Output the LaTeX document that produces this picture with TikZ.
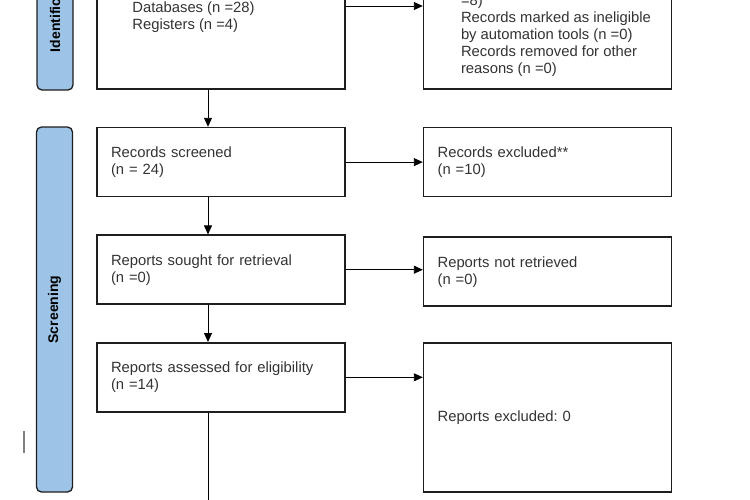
\documentclass[tikz,border=0pt]{standalone}
\usepackage{fontspec}
\setmainfont{Liberation Sans}
\usepackage{xcolor}
\usetikzlibrary{arrows.meta,positioning}
\frenchspacing
\definecolor{phasefill}{HTML}{9DC3E6}
\definecolor{boxline}{HTML}{1E1E1E}
\tikzset{
  box/.style  ={draw=boxline, line width=1.6pt, fill=white, align=left, text width=220pt, inner xsep=14pt, inner ysep=0pt, minimum height=69pt, font=\fontsize{14.8pt}{17pt}\selectfont, text=black!80},
  txt/.style  ={align=left, inner sep=0pt, font=\fontsize{14.8pt}{17pt}\selectfont, text=black!80},
  phase/.style={draw=boxline, line width=1.3pt, fill=phasefill, rounded corners=5pt, rotate=90, minimum height=36pt, inner sep=0pt, font=\fontsize{14pt}{16pt}\selectfont\bfseries},
  arr/.style  ={-{Triangle[length=9pt,width=8pt]}, line width=0.9pt},
}
\begin{document}
\begin{tikzpicture}[x=1pt, y=-1pt, node distance=37pt and 77pt]
  \clip (0,0) rectangle (750,499);
  % phases
  \node[phase, minimum width=163pt] (idphase) at (55,8.5) {Identification};
  \node[phase, minimum width=365pt] (scrphase) at (54.5,309.5) {Screening};
  \draw[gray, line width=1.2pt] (24,431) -- (24,453);
  % identification
  \node[box, minimum height=166pt] (ident) at (221,6) {};
  \node[txt, anchor=south west] (identtxt) at ([xshift=36pt, yshift=57pt]ident.south west) {Databases (n =28)\\Registers (n =4)};
  \node[box, minimum height=166pt, right=of ident] (removed) {};
  \node[txt, anchor=south west] (removedtxt) at ([xshift=38pt, yshift=13pt]removed.south west) {=8)\\Records marked as ineligible\\by automation tools (n =0)\\Records removed for other\\reasons (n =0)};
  % screening
  \node[box, below=of ident] (screened) {Records screened\\(n = 24)};
  \node[box, right=of screened] (excluded) {Records excluded**\\(n =10)};
  \node[box, below=of screened] (sought) {Reports sought for retrieval\\(n =0)};
  \node[box, right=of sought, yshift=-2pt] (notretr) {Reports not retrieved\\(n =0)};
  \node[box, below=of sought] (assessed) {Reports assessed for eligibility\\(n =14)};
  \node[box, right=of assessed.north east, anchor=north west, minimum height=149pt] (repexcl) {Reports excluded: 0};
  \coordinate[below=100pt of assessed.south, xshift=-13pt] (tail);
  % connectors
  \draw[arr] (ident) -- (removed);
  \draw[arr] ([xshift=-13pt]ident.south) -- ([xshift=-13pt]screened.north);
  \draw[arr] (screened) -- (excluded);
  \draw[arr] ([xshift=-13pt]screened.south) -- ([xshift=-13pt]sought.north);
  \draw[arr] (sought.east) -- (sought.east -| notretr.west);
  \draw[arr] ([xshift=-13pt]sought.south) -- ([xshift=-13pt]assessed.north);
  \draw[arr] (assessed.east) -- (assessed.east -| repexcl.west);
  \draw[line width=0.9pt] ([xshift=-13pt]assessed.south) -- (tail);
\end{tikzpicture}
\end{document}
